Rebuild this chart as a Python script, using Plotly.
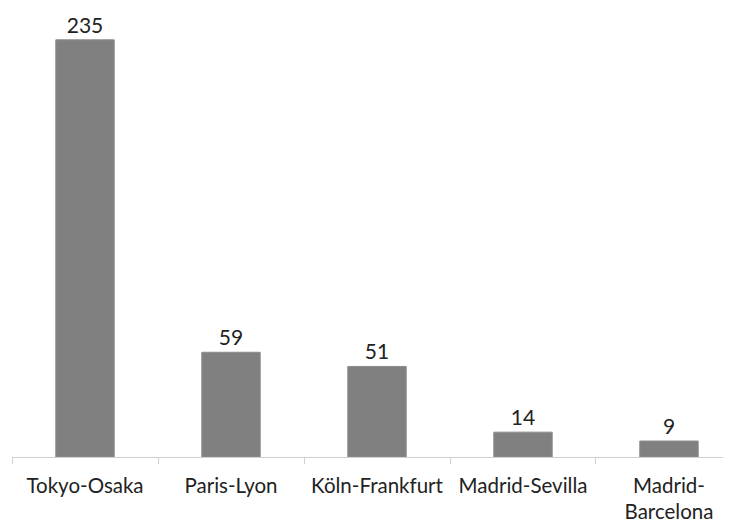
import plotly.graph_objects as go

categories = ["Tokyo-Osaka", "Paris-Lyon", "Köln-Frankfurt", "Madrid-Sevilla", "Madrid-<br>Barcelona"]
values = [235, 59, 51, 14, 9]
value_labels = ["235", "59", "51", "14", "9"]

FONT = "Lato"

fig = go.Figure(go.Bar(
    x=categories, y=values, text=value_labels, textposition="outside",
    textfont=dict(family=FONT, size=21, color="#222222"), cliponaxis=False,
    marker=dict(color="#808080", line=dict(color="#8c8c8c", width=1)),
    width=0.4,
))
# page body has an 8px margin: figure is 723x515 so the page fits in 731x523
fig.update_layout(
    width=723, height=515, margin=dict(l=4, r=0, t=2, b=66, autoexpand=False),
    paper_bgcolor="white", plot_bgcolor="white", showlegend=False,
    font=dict(family=FONT, size=21, color="#222222"),
)
fig.update_xaxes(type="category", range=[-0.5, 4.4247], showline=True, linecolor="#d0d0d0", linewidth=1,
                 ticks="outside", tickson="boundaries", ticklen=6, tickcolor="#d0d0d0", automargin=False,
                 showgrid=False, tickfont=dict(family=FONT, size=20.5, color="#222222"), ticklabelstandoff=10)
fig.update_yaxes(range=[0, 251.8], visible=False, showgrid=False, zeroline=False, automargin=False)
fig.write_html("out.html")
